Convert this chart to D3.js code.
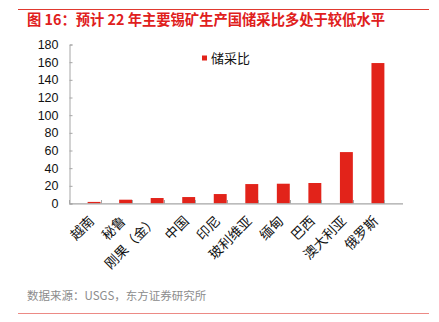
<!DOCTYPE html>
<html lang="zh">
<head>
<meta charset="utf-8">
<script src="https://d3js.org/d3.v7.min.js"></script>
<style>
  body { margin: 0; background: #fff; }
  svg text { font-family: "Liberation Sans", Arial, "Noto Sans CJK SC", sans-serif; }
  .cjk { font-family: "Noto Sans CJK SC", sans-serif; }
</style>
</head>
<body>
<svg id="chart" width="439" height="322"></svg>
<script>
var countries = ["越南", "秘鲁", "刚果（金）", "中国", "印尼", "玻利维亚", "缅甸", "巴西", "澳大利亚", "俄罗斯"]
var ratio = [1.8, 4.3, 6.2, 7.3, 10.7, 22, 22.4, 23.2, 58.2, 159]
var yTicks = [0, 20, 40, 60, 80, 100, 120, 140, 160, 180]
var seriesName = "储采比"
var title = "图 16：预计 22 年主要锡矿生产国储采比多处于较低水平"
var source = "数据来源：USGS，东方证券研究所"

var red = "#e2231a"
var axisGray = "#a6a6a6"

var svg = d3.select("#chart")

// header / footer rules
svg.append("line").attr("x1", 18).attr("x2", 429).attr("y1", 9.5).attr("y2", 9.5)
    .attr("stroke", "#e0392f").attr("stroke-width", 1)
svg.append("text").attr("class", "cjk").attr("x", 27).attr("y", 25)
    .attr("fill", "#e0201c").attr("font-size", 14.3).attr("font-weight", "bold")
    .text(title)

svg.append("text").attr("class", "cjk").attr("x", 27).attr("y", 300)
    .attr("fill", "#8c8c8c").attr("font-size", 11.5)
    .text(source)
svg.append("line").attr("x1", 18).attr("x2", 429).attr("y1", 313.5).attr("y2", 313.5)
    .attr("stroke", "#ec8a85").attr("stroke-width", 1.2)

// scales
var x = d3.scaleBand().domain(countries).range([69, 403]).padding(0.59)
var y = d3.scaleLinear().domain([0, 180]).range([203.5, 44.5])

// y axis
var yAxis = d3.axisLeft(y).tickValues(yTicks).tickSize(-3).tickPadding(11)
var gy = svg.append("g").attr("transform", "translate(69.5,0)").call(yAxis)
gy.select(".domain").attr("stroke", axisGray)
gy.selectAll(".tick line").attr("stroke", axisGray)
gy.selectAll(".tick text").attr("font-size", 12.5).attr("fill", "#111")
    .attr("font-family", "'Liberation Sans', Arial, sans-serif")

// bars
svg.selectAll("rect.bar").data(countries).enter().append("rect")
    .attr("class", "bar")
    .attr("x", d => x(d))
    .attr("width", x.bandwidth())
    .attr("y", (d, i) => y(ratio[i]))
    .attr("height", (d, i) => y(0) - y(ratio[i]))
    .attr("fill", red)

// x axis
var step = x.step()
var edges = d3.range(countries.length + 1).map(i => 69 + i * step)
var gx = svg.append("g")
gx.append("line").attr("x1", 69).attr("x2", 403).attr("y1", 203.8).attr("y2", 203.8)
    .attr("stroke", axisGray).attr("stroke-width", 1.3)
gx.selectAll("line.tk").data(edges).enter().append("line").attr("class", "tk")
    .attr("x1", d => Math.round(d) + 0.5).attr("x2", d => Math.round(d) + 0.5)
    .attr("y1", 203.5).attr("y2", 200).attr("stroke", axisGray)

gx.selectAll("text.lbl").data(countries).enter().append("text")
    .attr("class", "lbl cjk")
    .attr("transform", d => "translate(" + (x(d) + x.bandwidth() / 2 + 1) + ",222) rotate(-45)")
    .attr("text-anchor", "end")
    .attr("font-size", 13.5)
    .attr("fill", "#111")
    .text(d => d)

// legend
svg.append("rect").attr("x", 202).attr("y", 55.5).attr("width", 5).attr("height", 5).attr("fill", red)
svg.append("text").attr("class", "cjk").attr("x", 211).attr("y", 62.5)
    .attr("font-size", 13).attr("fill", "#111").text(seriesName)
</script>
</body>
</html>
